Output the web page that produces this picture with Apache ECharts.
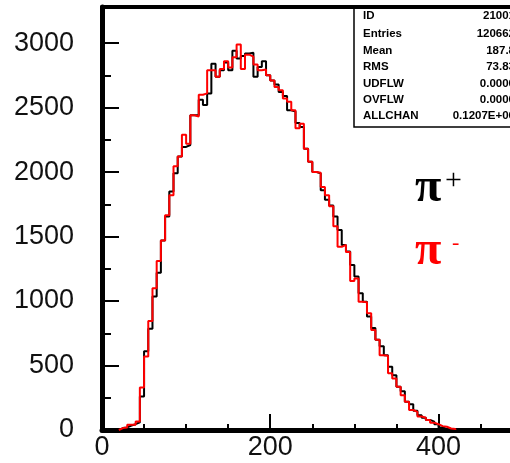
<!DOCTYPE html>
<html>
<head>
<meta charset="utf-8">
<script src="https://cdn.jsdelivr.net/npm/echarts@6/dist/echarts.min.js"></script>
<style>
  html, body { margin: 0; padding: 0; background: #fff; }
  #chart { width: 510px; height: 463px; }
</style>
</head>
<body>
<div id="chart"></div>
<script>
// Histogram binning: 5-unit bins, first filled bin starts at 20
const binWidth = 5;
const binStart = 20;

// Counts per bin for pi+ (black) and pi- (red)
const piPlus = [
  15, 20, 35, 45, 60, 260, 610, 785, 1035, 1220,
  1470, 1655, 1850, 1990, 2120, 2195, 2210, 2440, 2440, 2560,
  2520, 2610, 2840, 2740, 2790, 2850, 2790, 2940, 2880, 2900,
  2920, 2925, 2740, 2815, 2860, 2750, 2710, 2680, 2620, 2590,
  2480, 2470, 2380, 2350, 2180, 2080, 2000, 1990, 1860, 1785,
  1740, 1655, 1550, 1435, 1385, 1280, 1190, 1060, 995, 880,
  790, 700, 650, 580, 490, 425, 335, 300, 220, 200,
  150, 115, 95, 78, 65, 45, 20, 8, 3, 0
];
const piMinus = [
  15, 20, 40, 40, 65, 330, 570, 845, 1100, 1310,
  1470, 1665, 1820, 2045, 2120, 2290, 2220, 2440, 2430, 2600,
  2610, 2790, 2790, 2740, 2800, 2860, 2810, 2890, 2990, 2800,
  2910, 2895, 2835, 2790, 2795, 2750, 2710, 2660, 2635, 2570,
  2545, 2480, 2340, 2375, 2180, 2080, 2000, 1995, 1885, 1820,
  1735, 1580, 1420, 1435, 1380, 1155, 1175, 995, 990, 905,
  775, 700, 580, 575, 440, 400, 335, 270, 220, 155,
  140, 105, 95, 78, 57, 45, 30, 25, 12, 8
];

// Axis ticks and labels
const yMajorTicks = [0, 500, 1000, 1500, 2000, 2500, 3000];
const yMinorTicks = [250, 750, 1250, 1750, 2250, 2750];
const xMajorTicks = [0, 200, 400];
const xMinorTicks = [50, 100, 150, 250, 300, 350, 450];

// Statistics box
const statNames = ['ID', 'Entries', 'Mean', 'RMS', 'UDFLW', 'OVFLW', 'ALLCHAN'];
const statValues = ['21001', '120662', '187.8', '73.83', '0.0000', '0.0000', '0.1207E+06'];

// Step outline of a histogram: rise at the first edge, drop after the last bin
function outline(counts) {
  const pts = [[binStart, 0]];
  counts.forEach((c, i) => pts.push([binStart + i * binWidth, c]));
  pts.push([binStart + counts.length * binWidth, 0]);
  return pts;
}

const X_MAX = 485;
const Y_MAX = 3280;
const labelFont = {
  fontFamily: '"Liberation Sans", Arial, sans-serif', fontSize: 27, color: '#111',
  formatter: (v) => String(v)
};

const statRowY = [16, 34.3, 50.8, 67.3, 83.5, 99.6, 115.6];
const statFont = 'bold 11.5px "Liberation Sans", Arial, sans-serif';
const statGraphics = [];
statNames.forEach((name, i) => {
  statGraphics.push({
    type: 'text', z: 10,
    style: { text: name, x: 363, y: statRowY[i], font: statFont, fill: '#000', verticalAlign: 'middle', align: 'left' }
  });
  statGraphics.push({
    type: 'text', z: 10,
    style: { text: statValues[i], x: 515, y: statRowY[i], font: statFont, fill: '#000', verticalAlign: 'middle', align: 'right' }
  });
});

const serif = '"Liberation Serif", "Times New Roman", serif';

const chart = echarts.init(document.getElementById('chart'), null, { renderer: 'canvas' });
chart.setOption({
  animation: false,
  backgroundColor: '#fff',
  grid: { left: 102, right: 0, top: 7, bottom: 33, containLabel: false, outerBoundsMode: 'none' },
  xAxis: [
    {
      type: 'value', min: 0, max: X_MAX, position: 'bottom',
      axisLine: { show: true, onZero: false, lineStyle: { color: '#000', width: 5 } },
      axisTick: { show: true, inside: true, length: 16, customValues: xMajorTicks, lineStyle: { color: '#000', width: 2 } },
      axisLabel: { show: true, margin: 4, customValues: xMajorTicks, ...labelFont },
      splitLine: { show: false }
    },
    {
      type: 'value', min: 0, max: X_MAX, position: 'bottom',
      axisLine: { show: false },
      axisTick: { show: true, inside: true, length: 6, customValues: xMinorTicks, lineStyle: { color: '#000', width: 2 } },
      axisLabel: { show: false },
      splitLine: { show: false }
    },
    {
      type: 'value', min: 0, max: X_MAX, position: 'top',
      axisLine: { show: true, onZero: false, lineStyle: { color: '#000', width: 4 } },
      axisTick: { show: false },
      axisLabel: { show: false },
      splitLine: { show: false }
    }
  ],
  yAxis: [
    {
      type: 'value', min: 0, max: Y_MAX, position: 'left',
      axisLine: { show: true, onZero: false, lineStyle: { color: '#000', width: 5 } },
      axisTick: { show: true, inside: true, length: 17, customValues: yMajorTicks, lineStyle: { color: '#000', width: 2 } },
      axisLabel: { show: true, margin: 28, customValues: yMajorTicks, ...labelFont },
      splitLine: { show: false }
    },
    {
      type: 'value', min: 0, max: Y_MAX, position: 'left',
      axisLine: { show: false },
      axisTick: { show: true, inside: true, length: 9, customValues: yMinorTicks, lineStyle: { color: '#000', width: 2 } },
      axisLabel: { show: false },
      splitLine: { show: false }
    }
  ],
  series: [
    {
      name: 'π+', type: 'line', step: 'end', showSymbol: false, symbol: 'none',
      xAxisIndex: 0, yAxisIndex: 0,
      data: outline(piPlus),
      lineStyle: { color: '#000', width: 2 }, z: 3
    },
    {
      name: 'π-', type: 'line', step: 'end', showSymbol: false, symbol: 'none',
      xAxisIndex: 0, yAxisIndex: 0,
      data: outline(piMinus),
      lineStyle: { color: '#ff0000', width: 2 }, z: 4
    }
  ],
  graphic: [
    {
      type: 'rect', z: 9,
      shape: { x: 354, y: 7, width: 200, height: 120 },
      style: { fill: 'none', stroke: '#000', lineWidth: 1.5 }
    },
    ...statGraphics,
    {
      type: 'text', z: 10,
      style: { text: 'π', x: 415, y: 189, font: 'bold 48px ' + serif, fill: '#000', verticalAlign: 'middle' }
    },
    {
      type: 'text', z: 10,
      style: { text: '+', x: 445, y: 181, font: '30px ' + serif, fill: '#000', verticalAlign: 'middle' }
    },
    {
      type: 'text', z: 10,
      style: { text: 'π', x: 415, y: 252, font: 'bold 48px ' + serif, fill: '#ff0000', verticalAlign: 'middle' }
    },
    {
      type: 'text', z: 10,
      style: { text: '-', x: 452, y: 243, font: '22px ' + serif, fill: '#ff0000', verticalAlign: 'middle' }
    }
  ]
});
</script>
</body>
</html>
